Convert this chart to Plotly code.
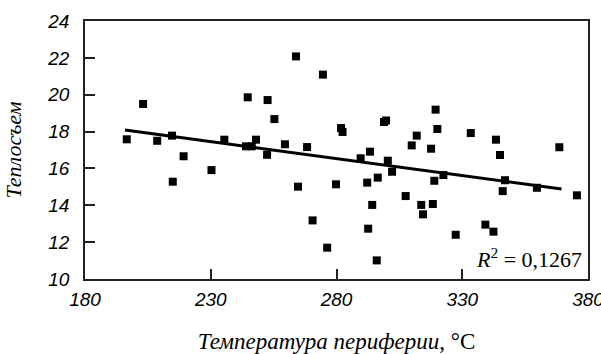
import plotly.graph_objects as go

# Data
temp_periphery = [196.6, 203.1, 208.7, 214.6, 219.2, 214.9, 230.3, 263.9, 274.6, 244.7,
                  252.6, 255.3, 281.8, 282.4, 235.4, 244.0, 246.3, 248.0, 252.4, 259.5,
                  268.3, 264.7, 279.8, 270.5, 276.3, 319.4, 298.9, 299.7, 320.1, 311.9,
                  309.9, 317.6, 293.3, 289.6, 300.4, 302.1, 296.4, 292.2, 318.9, 322.5,
                  307.5, 294.2, 313.7, 318.3, 314.4, 292.6, 327.4, 296.0, 333.4, 343.4,
                  345.0, 368.6, 347.0, 346.1, 359.7, 375.6, 339.2, 342.4]
heat_removal = [17.58, 19.50, 17.50, 17.78, 16.66, 15.28, 15.91, 22.08, 21.09, 19.86,
                19.71, 18.68, 18.19, 17.98, 17.56, 17.20, 17.20, 17.56, 16.74, 17.31,
                17.16, 15.01, 15.14, 13.18, 11.70, 19.19, 18.52, 18.60, 18.14, 17.78,
                17.25, 17.07, 16.91, 16.55, 16.42, 15.82, 15.50, 15.23, 15.33, 15.64,
                14.50, 14.02, 14.02, 14.07, 13.51, 12.73, 12.40, 11.01, 17.92, 17.56,
                16.73, 17.15, 15.36, 14.77, 14.95, 14.54, 12.95, 12.57]

trend_x = [195.9, 369.5]
trend_y = [18.08, 14.88]

x_ticks = [180, 230, 280, 330, 380]
y_ticks = [10, 12, 14, 16, 18, 20, 22, 24]
r2_text = "<i>R</i><sup>2</sup> = 0,1267"

fig = go.Figure()
fig.add_trace(go.Scatter(
    x=temp_periphery, y=heat_removal, mode="markers",
    marker=dict(symbol="square", size=8, color="black"),
    showlegend=False, cliponaxis=False))
fig.add_trace(go.Scatter(
    x=trend_x, y=trend_y, mode="lines",
    line=dict(color="black", width=3), showlegend=False))

fig.add_annotation(x=378.5, y=11.15, xref="x", yref="y", text=r2_text,
                   showarrow=False, xanchor="right", yanchor="middle",
                   font=dict(family="Liberation Serif", size=22, color="black"))

axis_common = dict(showgrid=False, zeroline=False, showline=True, linecolor="#222",
                   linewidth=1.5, mirror=True, ticks="inside", ticklen=10,
                   tickwidth=1.5, tickcolor="#222", automargin=False)

fig.update_xaxes(range=[180, 380], tickvals=x_ticks, ticktext=[str(v) for v in x_ticks],
                 ticklabeloverflow="allow", ticklabelstandoff=2,
                 tickfont=dict(family="Liberation Sans", size=19, color="black", style="italic"),
                 title=dict(text="<i>Температура периферии</i>, °C", standoff=24,
                            font=dict(family="Liberation Serif", size=23, color="black")),
                 **axis_common)
fig.update_yaxes(range=[10, 24], tickvals=y_ticks, ticktext=[str(v) for v in y_ticks],
                 ticklabelstandoff=10,
                 tickfont=dict(family="Liberation Sans", size=19, color="black", style="italic"),
                 title=dict(text="<i>Теплосъем</i>", standoff=20,
                            font=dict(family="Liberation Serif", size=22, color="black")),
                 **axis_common)

fig.update_layout(width=601, height=354, margin=dict(l=85, r=13, t=21, b=75),
                  plot_bgcolor="white", paper_bgcolor="white")

fig.write_html("out.html")
